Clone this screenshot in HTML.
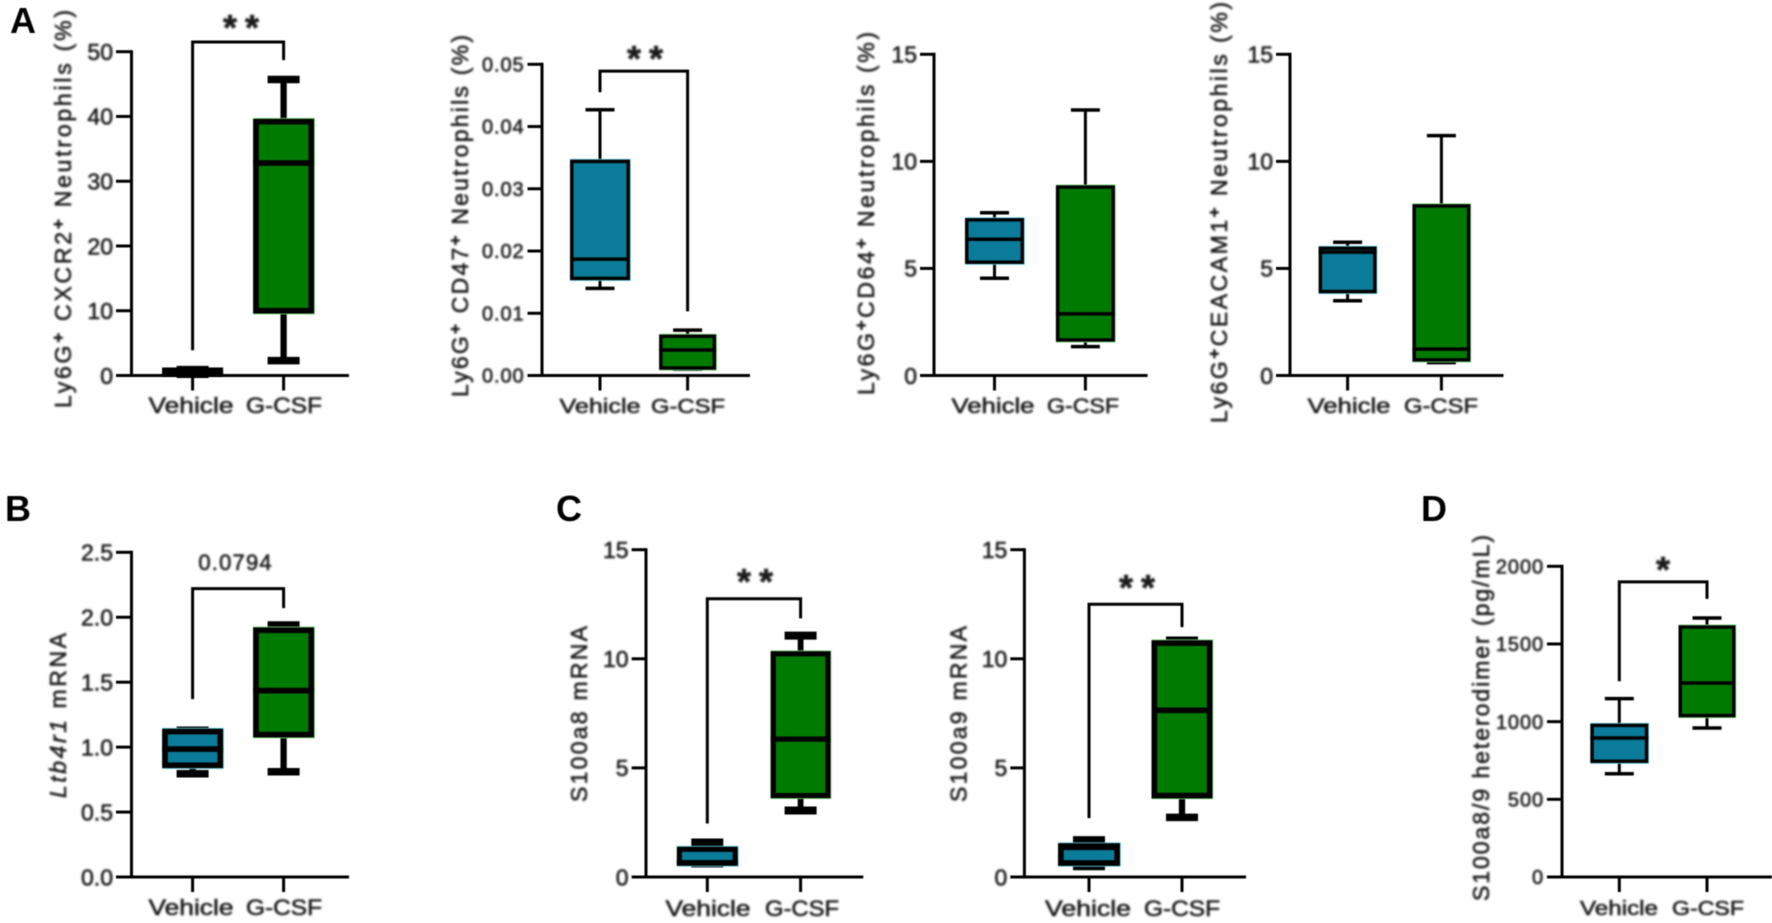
<!DOCTYPE html>
<html lang="en">
<head>
<meta charset="utf-8">
<title>Neutrophil marker and mRNA box plots, Vehicle vs G-CSF</title>
<style>
html,body{margin:0;padding:0;background:#fff;width:1772px;height:923px;overflow:hidden}
svg{display:block;font-family:"Liberation Sans",Arial,sans-serif}
svg text{fill:#1a1a1a;stroke:#1a1a1a;stroke-width:.55px;filter:blur(.95px)}
.shape{filter:blur(.45px)}
</style>
</head>
<body>
<svg id="figure" width="1772" height="923" viewBox="0 0 1772 923" xmlns="http://www.w3.org/2000/svg">
  <text x="10" y="33" font-size="36" font-weight="700" style="fill:#000;stroke:none;filter:blur(.4px)">A</text>
  <text x="5" y="521" font-size="36" font-weight="700" style="fill:#000;stroke:none;filter:blur(.4px)">B</text>
  <text x="556" y="521" font-size="36" font-weight="700" style="fill:#000;stroke:none;filter:blur(.4px)">C</text>
  <text x="1421" y="521" font-size="36" font-weight="700" style="fill:#000;stroke:none;filter:blur(.4px)">D</text>
</svg>
<script>
// ---- Data (box stats are [whisker low, q1, median, q3, whisker high]) ----
const categories = ['Vehicle', 'G-CSF'];

const cxcr2TickLabels = ['0', '10', '20', '30', '40', '50'];
const cxcr2Vehicle = [0.2, 0.3, 0.5, 0.8, 0.9];
const cxcr2Gcsf = [2.3, 10, 32.8, 39.2, 45.7];
const cxcr2Bracket = [51.5, 3.9, 48.7];

const cd47TickLabels = ['0.00', '0.01', '0.02', '0.03', '0.04', '0.05'];
const cd47Vehicle = [0.014, 0.0156, 0.0187, 0.0344, 0.0427];
const cd47Gcsf = [0.001, 0.0012, 0.0041, 0.0063, 0.0073];
const cd47Bracket = [0.0489, 0.0455, 0.0103];

const cd64TickLabels = ['0', '5', '10', '15'];
const cd64Vehicle = [4.54, 5.29, 6.36, 7.27, 7.6];
const cd64Gcsf = [1.35, 1.66, 2.88, 8.8, 12.4];

const ceacamTickLabels = ['0', '5', '10', '15'];
const ceacamVehicle = [3.49, 3.92, 5.76, 5.94, 6.22];
const ceacamGcsf = [0.6, 0.73, 1.23, 7.92, 11.2];

const ltb4r1TickLabels = ['0.0', '0.5', '1.0', '1.5', '2.0', '2.5'];
const ltb4r1Vehicle = [0.795, 0.86, 0.985, 1.12, 1.13];
const ltb4r1Gcsf = [0.81, 1.096, 1.435, 1.9, 1.94];
const ltb4r1Bracket = [2.22, 1.37, 2.07];

const s100a8TickLabels = ['0', '5', '10', '15'];
const s100a8Vehicle = [0.62, 0.63, 0.66, 1.27, 1.58];
const s100a8Gcsf = [3.05, 3.73, 6.32, 10.23, 11.06];
const s100a8Bracket = [12.75, 2.45, 11.85];

const s100a9TickLabels = ['0', '5', '10', '15'];
const s100a9Vehicle = [0.48, 0.64, 1.36, 1.42, 1.7];
const s100a9Gcsf = [2.73, 3.73, 7.64, 10.72, 10.85];
const s100a9Bracket = [12.5, 2.7, 11.45];

const heterodimerTickLabels = ['0', '500', '1000', '1500', '2000'];
const heterodimerVehicle = [665, 745, 895, 976, 1148];
const heterodimerGcsf = [959, 1039, 1249, 1609, 1667];
const heterodimerBracket = [1900, 1260, 1790];

// ---- Layout ----
const blue = '#0a7c9a', green = '#007a00';
const panels = [
 {id:'cxcr2', ticks:cxcr2TickLabels, v:cxcr2Vehicle, g:cxcr2Gcsf, br:cxcr2Bracket, sig:'**', sigX:241, sigY:20, noHaloV:true,
  x0:131.5, x1:349, top:51.7, bot:375.5, tickL:116, c0:192.6, c1:283.6, boxV:61, boxG:61, sw:5.7, cap:7.5, capW:32, brSw:3,
  tf:23, tls:0, lf:22, lY:413, lb:[191,284], lw:[85,76],
  title:'Ly6G^+^ CXCR2^+^ Neutrophils (%)', tx:63, ty0:10, ty1:408},
 {id:'cd47', ticks:cd47TickLabels, v:cd47Vehicle, g:cd47Gcsf, br:cd47Bracket, sig:'**', sigX:645, sigY:51,
  x0:542, x1:750, top:64.3, bot:375.5, tickL:527.5, c0:600, c1:687.6, boxV:60, boxG:57, sw:3.5, cap:3.5, capW:29, brSw:3,
  tf:20, tls:.9, lf:20, lY:413, lb:[600,688], lw:[81,74],
  title:'Ly6G^+^ CD47^+^ Neutrophils (%)', tx:460, ty0:35, ty1:397},
 {id:'cd64', ticks:cd64TickLabels, v:cd64Vehicle, g:cd64Gcsf, sigX:0,
  x0:934, x1:1147.6, top:54.3, bot:375.5, tickL:920, c0:994.5, c1:1085.4, boxV:59, boxG:59, sw:3.5, cap:3.5, capW:29, brSw:3,
  tf:23, tls:0, lf:21, lY:413, lb:[993,1083], lw:[83,72],
  title:'Ly6G^+^CD64^+^ Neutrophils (%)', tx:866, ty0:32, ty1:395},
 {id:'ceacam', ticks:ceacamTickLabels, v:ceacamVehicle, g:ceacamGcsf, sigX:0,
  x0:1290, x1:1503.5, top:54.3, bot:375.5, tickL:1276, c0:1347.6, c1:1441.4, boxV:58, boxG:58, sw:3.5, cap:3.5, capW:29, brSw:3,
  tf:23, tls:0, lf:21, lY:413, lb:[1349,1441], lw:[83,74],
  title:'Ly6G^+^CEACAM1^+^ Neutrophils (%)', tx:1219, ty0:2, ty1:423},
 {id:'ltb4r1', ticks:ltb4r1TickLabels, v:ltb4r1Vehicle, g:ltb4r1Gcsf, br:ltb4r1Bracket, sig:'0.0794', sigX:235, sigY:562,
  x0:131.5, x1:349, top:552.3, bot:877, tickL:116, c0:192.6, c1:283.6, boxV:61, boxG:61, sw:5.7, cap:7.5, capW:32, brSw:3,
  tf:23, tls:0, lf:22, lY:915, lb:[191,284], lw:[85,76],
  title:'~Ltb4r1~ mRNA', tx:58, ty0:633, ty1:798},
 {id:'s100a8', ticks:s100a8TickLabels, v:s100a8Vehicle, g:s100a8Gcsf, br:s100a8Bracket, sig:'**', sigX:755, sigY:574,
  x0:646, x1:863.3, top:549.7, bot:877, tickL:631.6, c0:707.3, c1:800.6, boxV:61, boxG:60, sw:5.2, cap:8, capW:32, brSw:3,
  tf:23, tls:0, lf:22, lY:916, lb:[708,802], lw:[85,74],
  title:'S100a8 mRNA', tx:579, ty0:626, ty1:802},
 {id:'s100a9', ticks:s100a9TickLabels, v:s100a9Vehicle, g:s100a9Gcsf, br:s100a9Bracket, sig:'**', sigX:1137, sigY:580,
  x0:1024.4, x1:1246, top:549.7, bot:877, tickL:1010.3, c0:1089, c1:1182, boxV:62, boxG:61, sw:5.7, cap:7.5, capW:32, brSw:3,
  tf:23, tls:0, lf:22, lY:916, lb:[1088,1182], lw:[86,76],
  title:'S100a9 mRNA', tx:958.5, ty0:626, ty1:802},
 {id:'heterodimer', ticks:heterodimerTickLabels, v:heterodimerVehicle, g:heterodimerGcsf, br:heterodimerBracket, sig:'*', sigX:1663, sigY:562,
  x0:1562, x1:1772, top:566.3, bot:877, tickL:1547, c0:1619.3, c1:1707, boxV:58, boxG:57, sw:3.5, cap:3.5, capW:29, brSw:3,
  tf:20, tls:.9, lf:20, lY:915, lb:[1619,1708], lw:[78,72],
  title:'S100a8/9 heterodimer (pg/mL)', tx:1481, ty0:535, ty1:901}
];

const NS = 'http://www.w3.org/2000/svg';
const svg = document.getElementById('figure');
function mk(tag, attrs, parent) {
  const n = document.createElementNS(NS, tag);
  for (const k in attrs) n.setAttribute(k, attrs[k]);
  parent.appendChild(n);
  return n;
}

function drawBox(parent, stats, cx, width, fill, halo, p, yScale) {
  const [low, q1, med, q3, high] = stats;
  const group = mk('g', {class:'shape'}, parent);
  
  
  const stem = {stroke:'#000', 'stroke-width':p.sw > 4 ? p.sw + .6 : 3};
  const upper = mk('line', Object.assign({x1:cx, x2:cx, y1:yScale(q3), y2:yScale(high)}, stem), group);
  
  
  const lower = mk('line', Object.assign({x1:cx, x2:cx, y1:yScale(q1), y2:yScale(low)}, stem), group);
  
  
  const capTop = mk('line', {x1:cx - p.capW / 2, x2:cx + p.capW / 2, y1:yScale(high), y2:yScale(high), stroke:'#000', 'stroke-width':p.cap}, group);
  
  
  const capBottom = mk('line', {x1:cx - p.capW / 2, x2:cx + p.capW / 2, y1:yScale(low), y2:yScale(low), stroke:'#000', 'stroke-width':p.cap}, group);
  
  
  const left = cx - width / 2 + p.sw / 2;
  const rw = width - p.sw;
  if (halo) {
    const glow = mk('rect', {x:left + .5, y:yScale(q3) - .5, width:rw, height:yScale(q1) - yScale(q3) + 1, fill:'none', stroke:halo, 'stroke-width':p.sw + .6}, group);
    
    
  }
  const box = mk('rect', {x:left, y:yScale(q3), width:rw, height:yScale(q1) - yScale(q3), fill:fill, stroke:'#000', 'stroke-width':p.sw}, group);
  
  
  const median = mk('line', {x1:cx - width / 2, x2:cx + width / 2, y1:yScale(med), y2:yScale(med), stroke:'#000', 'stroke-width':p.sw}, group);
  
  
}

function drawTitle(parent, p) {
  const mid = (p.ty0 + p.ty1) / 2;
  const bx = p.tx + 8;
  const t = mk('text', {x:bx, y:mid, 'text-anchor':'middle', 'font-size':23, textLength:p.ty1 - p.ty0, lengthAdjust:'spacing', transform:'rotate(-90 ' + bx + ' ' + mid + ')'}, parent);
  
  
  const italic = p.title.split('~');
  italic.forEach(function (chunk, ci) {
    const parts = chunk.split('^');
    let shift = 0;
    parts.forEach(function (part, i) {
      if (!part) return;
      const sup = i % 2 === 1;
      const a = {};
      if (sup) { a['font-size'] = 17; a['font-weight'] = 700; a.dy = -7 - shift; shift = -7; }
      else { a.dy = -shift; shift = 0; }
      if (ci % 2 === 1) a['font-style'] = 'italic';
      const s = mk('tspan', a, t);
      s.textContent = part;
    });
  });
}

panels.forEach(function (p) {
  const group = mk('g', {}, svg);
  
  

  const maxV = Number(p.ticks[p.ticks.length - 1]);
  const yScale = function (v) { return p.bot - (v / maxV) * (p.bot - p.top); };
  const xScale = function (i) { return p.c0 + i * (p.c1 - p.c0); };

  drawTitle(group, p);

  const axes = mk('g', {class:'shape', stroke:'#000', 'stroke-width':3}, group);
  
  
  const yAxis = mk('line', {x1:p.x0, x2:p.x0, y1:p.top - 1.5, y2:p.bot + 1.5}, axes);
  
  
  const xAxis = mk('line', {x1:p.x0 - 1.5, x2:p.x1, y1:p.bot, y2:p.bot}, axes);
  
  

  p.ticks.forEach(function (label) {
    const y = yScale(Number(label));
    const tick = mk('line', {x1:p.tickL, x2:p.x0, y1:y, y2:y}, axes);
    
    
    const t = mk('text', {x:p.tickL - 3, y:y + p.tf * .36, 'text-anchor':'end', 'font-size':p.tf, 'letter-spacing':p.tls}, group);
    
    
    t.textContent = label;
  });

  categories.forEach(function (name, i) {
    const cx = xScale(i);
    const tick = mk('line', {x1:cx, x2:cx, y1:p.bot, y2:p.bot + 15}, axes);
    
    
    const t = mk('text', {x:p.lb[i], y:p.lY, 'text-anchor':'middle', 'font-size':p.lf, textLength:p.lw[i], lengthAdjust:'spacingAndGlyphs'}, group);
    
    
    t.textContent = name;
  });

  drawBox(group, p.v, xScale(0), p.boxV, blue, p.noHaloV ? null : '#6fdcf0', p, yScale);
  drawBox(group, p.g, xScale(1), p.boxG, green, '#7fe67f', p, yScale);

  if (p.br) {
    const pts = [[xScale(0), yScale(p.br[1])], [xScale(0), yScale(p.br[0])], [xScale(1), yScale(p.br[0])], [xScale(1), yScale(p.br[2])]];
    const bracket = mk('polyline', {class:'shape', points:pts.map(function (q) { return q.join(','); }).join(' '), fill:'none', stroke:'#000', 'stroke-width':p.brSw}, group);
    
    
    const isStar = p.sig.charAt(0) === '*';
    const fs = isStar ? 36 : 22;
    const baseline = isStar ? p.sigY + 20 : p.sigY + 8;
    const ls = isStar ? (p.sig.length > 1 ? 8 : 0) : 1.2;
    const note = mk('text', {x:p.sigX + ls / 2, y:baseline, 'text-anchor':'middle', 'font-size':fs, 'font-weight':isStar ? 700 : 400, 'letter-spacing':ls}, group);
    
    
    note.textContent = p.sig;
  }
});
</script>
</body>
</html>
